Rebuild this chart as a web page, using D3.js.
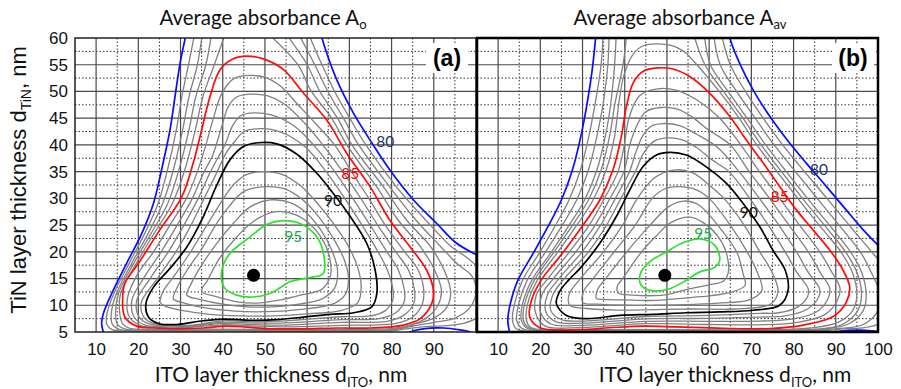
<!DOCTYPE html>
<html>
<head>
<meta charset="utf-8">
<script src="https://cdn.jsdelivr.net/npm/d3@7"></script>
<style>
  body { margin: 0; background: #fff; }
  svg { display: block; }
</style>
</head>
<body>
<div id="chart"></div>
<script>
// axis ticks and grid
const yTicks = [5, 10, 15, 20, 25, 30, 35, 40, 45, 50, 55, 60];
const xTicksA = [10, 20, 30, 40, 50, 60, 70, 80, 90];
const xTicksB = [10, 20, 30, 40, 50, 60, 70, 80, 90, 100];
const gridMajorX = [10, 20, 30, 40, 50, 60, 70, 80, 90];
const gridMinorX = [15, 25, 35, 45, 55, 65, 75, 85, 95];
const gridMajorY = [10, 15, 20, 25, 30, 35, 40, 45, 50, 55];
const gridMinorY = [7.5, 12.5, 17.5, 22.5, 27.5, 32.5, 37.5, 42.5, 47.5, 52.5, 57.5];

// ---- panel (a): A_o contours, points are [d_ITO, d_TiN] ----
const aBlueLeft = [[31.3,61],[31.1,60],[29.9,55.3],[28.7,49.1],[27.5,42.8],[25.5,35.3],[23.6,29.1],[20.8,23.4],[17.2,17.8],[13.7,12.2],[11.7,8.4],[11.3,6.6],[11.7,5],[11.9,4.5]];
const aBlueRight = [[63.2,61],[63.5,60],[67,52.2],[71,45.9],[74.9,40.9],[79.6,35.3],[85.2,29.7],[90.7,25.3],[95.4,21.6],[100.2,19.4],[102,18.6]];
const aBlueBottom = [[83.5,4.5],[84.4,5],[87.5,5.6],[92.3,5.75],[96.2,5.4],[98.6,5],[99.5,4.5]];
const aRed = [[45.7,56.6],[49.6,56.1],[54.4,54.1],[59.1,49.7],[64.6,44.7],[69.4,38.4],[74.9,32.2],[79.6,25.9],[84.4,20.9],[88.3,16.6],[89.9,12.8],[89.5,10.3],[86.8,7.5],[82.8,6.3],[75,5.75],[67,5.75],[59.1,5.6],[51.2,5.6],[45.7,5.9],[40.9,6.1],[35.4,5.75],[29.1,5.6],[23.6,5.75],[19.6,6.1],[16.8,7.8],[16.3,11.6],[16.8,14.1],[20.0,17.8],[25.1,24.1],[30.3,30.3],[33.0,36.6],[35.0,42.8],[37.0,49.1],[39.4,54.1],[42.5,56.1]];
const aBlack = [[48.4,40.4],[52.8,40.2],[57.5,38.3],[62.3,34.7],[66.2,30.9],[70.2,26.6],[74.1,21.6],[76.1,16.6],[76.5,12.2],[75.3,9.7],[71.0,8.6],[65.4,8.3],[59.1,7.8],[52.8,7.3],[46.5,7.2],[40.2,7.4],[35.4,7.1],[29.1,6.4],[24.7,6.6],[22.4,7.8],[21.8,10.3],[23.6,13.4],[27.5,16.9],[31.5,20.9],[35.4,26.6],[38.6,32.5],[41.7,37.2],[44.9,39.7]];
const aGreen = [[53.6,25.8],[58.3,25.3],[62.3,22.8],[64.0,19.1],[63.8,15.9],[60.7,15.2],[55.9,14.4],[52.0,12.5],[48.0,11.6],[43.3,11.9],[40.3,13.4],[39.8,16.6],[41.7,19.7],[46.5,22.8],[50.4,25.1]];
const aGray81 = [[33.4,61],[31.9,55],[30.3,49],[29.0,42.8],[26.9,35.3],[24.7,29.1],[21.5,23.4],[17.8,17.8],[14.2,12.2],[12.6,8.5],[12.5,6.5],[13.8,5.45],[18,5.15],[40,5.15],[60,5.12],[80,5.2],[84,5.65],[88,6.0],[93,6.2],[97,6.6],[100,7.6],[102.5,10],[102.5,15],[98.5,18.5],[94.1,21],[88.0,26],[81.3,32],[73.9,40],[70.1,45],[66.5,50],[63.5,55],[60.2,61]];
const aGray82 = [[35.2,61],[34.0,55],[32.0,49],[30.5,42.8],[28.3,35.3],[25.8,29.1],[22.3,23.4],[18.4,17.8],[14.8,12.2],[13.6,8.5],[13.8,6.5],[15.3,5.55],[19,5.27],[40,5.27],[60,5.25],[80,5.35],[85,6.1],[90,6.8],[95,7.6],[98.5,9.5],[100,12.5],[99,15.5],[95.5,17.8],[91.6,21],[85.7,26],[79.7,32],[72.2,40],[68.6,45],[64.9,50],[61.8,55],[57.8,61]];
const aGray83 = [[37.4,61],[36.0,55],[33.6,49],[32.0,42.8],[29.6,35.3],[27.0,29.1],[23.0,23.4],[18.9,17.8],[15.3,12.2],[14.6,8.5],[15.0,6.5],[16.5,5.65],[20,5.38],[40,5.4],[60,5.38],[80,5.5],[86,6.6],[90,7.6],[93,9.5],[94,12.5],[92.5,16.5],[89.2,21],[83.5,26],[78.2,32],[70.6,40],[67.2,45],[63.0,50],[60.0,55],[54.8,61]];
const aGray84 = [[40.7,61],[38.0,55],[35.3,49],[33.5,42.8],[31.0,35.3],[28.1,29.1],[23.7,23.4],[19.5,17.8],[15.8,12.2],[15.6,8.5],[16.3,6.5],[17.8,5.75],[21,5.5],[35,5.52],[50,5.5],[70,5.5],[80,5.65],[84,6.2],[88,7.5],[91,10],[91.8,12.8],[90.2,16.6],[86.8,21],[81.5,26],[76.6,32],[69.4,40],[65.8,45],[61.0,50],[57.8,55],[50.5,61]];
const aGray86 = [[46.3,53.0],[50.5,52.5],[54,50.8],[57.5,47.8],[62,44],[66.5,40],[70.5,35],[74.6,30],[78.5,25],[83.1,20],[86.3,16.6],[87.6,13],[87.3,10.3],[85,7.8],[81,6.6],[68,6.25],[55,5.95],[46,6.15],[40,6.35],[30,5.75],[25,5.85],[20.6,6.2],[17.9,7.8],[17.4,11.2],[19.6,15.5],[23.6,20],[27.5,25],[31.4,30],[34.0,35],[36.0,40],[37.8,45],[39.7,49.5],[42.6,52.4]];
const aGray87 = [[46.9,49.5],[50.5,49.2],[54.5,47.7],[59.5,44],[63.7,40],[68.4,35],[72.7,30],[76.7,25],[81.0,20],[84.0,16.6],[85.4,13],[85.3,10.4],[83,8.2],[79,7.0],[68,6.8],[55,6.3],[46,6.4],[40,6.6],[31,5.9],[26,6.0],[21.6,6.3],[19.0,7.8],[18.5,11.0],[21.2,15],[25.4,20],[29.2,25],[32.8,30],[35.6,35],[37.6,38],[39.6,43],[41.4,47.3],[43.4,49.0]];
const aGray88 = [[47.4,46.0],[51.5,45.6],[57,43.5],[61.5,40],[66.5,35],[70.8,30],[74.9,25],[78.9,20],[81.6,16.6],[83.0,13],[83,10.7],[81,8.6],[77,7.5],[68,7.3],[55,6.7],[46,6.7],[40,6.85],[32,6.1],[27,6.15],[22.6,6.5],[20.2,7.8],[19.6,10.8],[22.8,15],[27.1,20],[30.8,25],[34.2,30],[37.1,35],[38.8,37.5],[40.5,40],[42.3,43.5],[44.3,45.5]];
const aGray89 = [[48.0,43.0],[51.5,42.9],[55.5,41.8],[59.7,39.5],[64.5,35],[68.9,30],[73,25],[76.8,20],[79,16.6],[80.3,13],[80.3,11],[78.5,9.0],[75,8.0],[68,7.85],[55,7.1],[46,6.95],[40,7.1],[33,6.3],[28,6.3],[23.6,6.6],[21.3,7.8],[20.7,10.5],[24.5,15],[28.9,20],[32.5,25],[35.6,30],[38.7,35],[40.8,38.5],[43,40.8],[45,42.5]];
const aGray91 = [[49.3,35.0],[54,34.5],[58.5,32.3],[62.5,29],[66.5,25],[69.8,21],[72,17],[72.8,13.5],[72,10.5],[68,9.0],[60,8.4],[52,8.0],[44,8.0],[37,8.3],[30,9.1],[26.5,9.8],[25.2,10.5],[25.8,12.5],[28.5,15.5],[32,19.5],[35.5,24],[39,28.5],[42.5,32.5],[45.5,34.4]];
const aGray92 = [[50.2,32.2],[55,31.7],[59,29.7],[62.8,26.5],[66.2,22.5],[68.8,18.5],[69.8,15],[69,12],[66,10.2],[58,9.2],[50,8.8],[43,8.9],[36,9.5],[30.5,10.5],[28.3,11.2],[29,13],[31.5,16.5],[35,20.5],[38.3,25],[41.5,28.5],[45,31.3]];
const aGray93 = [[51.2,29.7],[56,29.2],[59.8,27.3],[63.3,24],[66,20],[67.2,16.5],[66.5,13.2],[63.5,11.2],[58,10.2],[52,9.7],[46,9.7],[40,10.2],[34.5,11.1],[31.5,11.9],[32.5,14],[35,17.5],[38.5,21.5],[42.5,25.3],[46.5,28.4]];
const aGray94 = [[52.5,27.5],[57,27.0],[60.5,25.3],[63.5,22.5],[65.3,19],[65.5,15.5],[63.5,13],[59,12],[53,10.9],[48,10.4],[43,10.7],[38.5,11.6],[35.0,12.6],[36.5,14.8],[39,18.5],[43,22.5],[47.5,25.8]];
const aOptimum = [47.3, 15.6];
const aLabels = [['80', 78.5, 40.7], ['85', 70.2, 34.6], ['90', 66.1, 29.6], ['95', 56.7, 22.9]];

// ---- panel (b): A_av contours ----
const bBlueLeft = [[33.2,61],[33.1,60],[32.3,54.1],[31.1,47.8],[29.6,41.6],[27.6,35.3],[25.0,29.7],[21.8,24.7],[18.3,19.7],[14.7,14.7],[12.9,10.3],[12.3,7.2],[12.7,5],[12.9,4.5]];
const bBlueRight = [[64.7,61],[64.9,60],[67.2,55.3],[70.4,50.3],[74.4,45.3],[79.1,40.3],[83.0,36.6],[87.8,32.2],[92.5,27.8],[96.5,24.1],[100,21.25],[102,19.8]];
const bBlueBottom = [[89,4.6],[90.5,5.1],[93,5.3],[96,5.35],[98.5,5.2],[101,5.0]];
const bRed = [[47.9,54.4],[51.4,54.2],[55.4,52.8],[60.1,49.7],[64.9,45.3],[68.8,40.9],[72.8,36.6],[76.7,32.2],[80.7,27.8],[84.6,24.1],[88.6,20.3],[91.7,16.6],[93.3,13.4],[92.5,10.6],[89.4,7.9],[82.3,6.3],[74.4,5.65],[63.3,5.7],[52.2,5.95],[44.3,6.1],[36.4,5.8],[29.3,5.45],[19.9,5.8],[17.5,7.8],[17.9,10.9],[20.2,14.7],[24.6,19.1],[29.3,24.1],[34.1,29.7],[37.2,35.3],[39.2,41.6],[40.4,47.2],[42.0,51.6],[44.3,53.75]];
const bBlack = [[50.7,38.6],[54.6,38.1],[59.3,35.9],[64.1,32.8],[68.0,29.1],[72.0,24.7],[75.1,20.3],[78.0,16.6],[78.7,12.8],[76.7,10.0],[70.4,9.07],[62.5,8.75],[54.6,8.6],[46.7,8.3],[38.8,8.1],[30.9,7.5],[26.2,8.1],[23.8,10.3],[24.6,12.6],[26.8,14.8],[29.3,16.8],[34.1,21.6],[38.0,26.6],[41.2,31.6],[44.3,35.9],[47.5,38.1]];
const bGreen = [[57.8,22.4],[61.3,21.25],[62.5,18.4],[61.3,17.1],[57.8,16.25],[54.6,14.7],[50.7,13.1],[46.7,12.7],[43.9,13.75],[43.7,15.9],[45.9,18.1],[49.9,20.0],[53.8,21.7]];
const bGray81 = [[34.9,61],[34.4,55],[33.0,47.8],[31.5,41.6],[29.5,35.3],[26.8,29.7],[23.4,24.7],[19.7,19.7],[15.8,14.7],[13.9,10.3],[13.4,7.2],[14.3,5.6],[17,5.12],[29,5.1],[50,5.12],[80,5.12],[87,5.25],[92,5.6],[97,5.85],[101,7],[102.5,14],[100.5,18],[98.5,20],[94.2,24],[87.9,30],[77.4,40],[72.8,45],[68.6,50],[65.0,55],[62.8,61]];
const bGray82 = [[36.3,61],[36.0,55],[34.9,47.8],[33.4,41.6],[31.4,35.3],[28.6,29.7],[25.0,24.7],[21.0,19.7],[16.9,14.7],[14.9,10.3],[14.4,7.2],[15.5,5.75],[18,5.2],[29,5.17],[50,5.2],[80,5.2],[90,5.6],[96.5,6.4],[100,9],[100.5,12],[98.5,16],[95.8,20],[91.8,24],[85.6,30],[75.4,40],[70.9,45],[66.5,50],[62.6,55],[61.0,61]];
const bGray83 = [[38.0,61],[37.6,55],[36.7,47.8],[35.4,41.6],[33.4,35.3],[30.5,29.7],[26.6,24.7],[22.4,19.7],[18.0,14.7],[15.8,10.3],[15.5,7.2],[16.6,5.85],[19,5.28],[29,5.24],[50,5.28],[75,5.28],[86,5.5],[93,6.5],[96.5,9],[97.2,12],[96.2,16],[93.5,20],[89.5,24],[83.3,30],[73.4,40],[69.0,45],[64.5,50],[60.3,55],[58.8,61]];
const bGray84 = [[40.5,61],[39.6,55],[37.7,47.8],[36.4,41.6],[34.4,35.3],[31.4,29.7],[27.4,24.7],[23.0,19.7],[18.6,14.7],[16.3,10.3],[16.0,7.2],[17.1,5.9],[19.5,5.35],[29,5.3],[50,5.35],[75,5.35],[88,5.7],[92,6.6],[95.2,9],[96.1,12],[95.1,16],[92.3,20],[88.3,24],[82.1,30],[72.3,40],[68,45],[63.4,50],[59,55],[56.2,61]];
const bGray845 = [[47.6,58.9],[51,58.6],[54,57.5],[56.5,55.5],[62.4,50],[67.1,45],[71.3,40],[81.0,30],[87.1,24],[91.2,20],[94.0,16],[95.0,12],[94,9],[90.5,6.8],[84,5.75],[75,5.42],[50,5.42],[35,5.42],[29,5.37],[20,5.45],[17.6,5.95],[16.7,7.2],[17.0,10.3],[19.3,14.7],[23.9,19.7],[28.4,24.7],[32.5,29.7],[35.6,35.3],[37.6,41.6],[38.6,47.8],[39.8,53],[42,57],[44.5,58.6]];
const bGray86 = [[47.8,50.5],[52.3,50.2],[57.5,48.2],[62.5,45],[67.5,40],[71.9,35],[76.7,30],[81.4,25],[86.2,20],[89.2,16],[91.0,13.2],[90.3,10.8],[87.5,8.3],[81,6.8],[72,6.35],[60,6.4],[45,6.55],[30,5.85],[21.2,6.1],[18.9,8.5],[19.1,12],[21.8,15],[26.9,20],[31.6,25],[35.2,30],[38.4,35],[39.9,40],[41.0,45],[43.5,49.2]];
const bGray87 = [[48.5,47],[52.5,46.7],[56,45.2],[59.5,43],[65,40],[69.5,35],[74.3,30],[78.9,25],[83.5,20],[86.4,16],[88.6,13.1],[88,11],[85.5,8.8],[79.5,7.4],[72,7.05],[60,7.0],[45,7.0],[30,6.25],[22.5,6.5],[20.1,8.6],[20.4,12],[23.1,15],[28.4,20],[33.0,25],[36.5,30],[39.8,35],[41.2,40],[42.8,43.5],[45,46.2]];
const bGray88 = [[49.2,44],[53,43.6],[57,42],[62,39.5],[67.1,35],[71.9,30],[76.5,25],[80.7,20],[83.6,16],[86.2,13.0],[85.8,11.3],[83.3,9.3],[78,8.0],[72,7.8],[60,7.55],[45,7.45],[30,6.65],[23.8,6.9],[21.3,8.8],[21.7,12],[24.4,15],[29.9,20],[34.3,25],[37.8,30],[41.1,35],[42.8,39],[44.5,42],[46.5,43.6]];
const bGray89 = [[49.9,41.3],[53.5,41],[57,39.5],[60.5,37.3],[64.7,35],[69.6,30],[74.0,25],[78.0,20],[80.9,16],[83.5,13.0],[83.3,11.6],[81,9.7],[76.5,8.6],[72,8.5],[60,8.1],[45,7.9],[30,7.05],[25.0,7.3],[22.5,9.0],[23.0,12],[25.7,15],[31.4,20],[35.7,25],[39.1,30],[42.5,35],[44.5,38.5],[47,40.7]];
const bGray91 = [[51.5,35.3],[56,34.8],[60,32.5],[63.5,30],[68.3,25],[72,20],[75,16],[76.3,12.5],[74.5,10.2],[66,9.3],[56,9.3],[47,9.2],[38,9.1],[31,9.4],[27,10],[26.8,12],[29.5,15],[35,20],[39.5,25],[43,30],[47,33.8]];
const bGray92 = [[52.5,32.2],[57,31.6],[60,30],[65,25],[69,20],[71.5,16],[72.5,12.8],[69.5,11],[62,10.4],[54,10.1],[47,10.0],[40,10.0],[33.5,10.2],[30.1,10.5],[30.2,12.5],[32.5,15],[37.5,20],[42.5,25],[46.5,30],[49.5,31.8]];
const bGray93 = [[54,29.5],[57.5,28.8],[62,25],[66.5,20],[68,16],[68.5,13.7],[64.5,12.3],[58,11.6],[52,11.2],[47,10.9],[40,11],[35,11.1],[33.3,11.3],[33.6,13],[35.5,15],[40.5,20],[46,25],[50.5,28.5]];
const bGray94 = [[55.5,26.5],[58.5,25.5],[62,23],[64,20],[64.5,16],[63.5,14.6],[60,13.8],[55,13],[50,12],[47,11.8],[42,11.9],[38.5,12.3],[38.2,13.5],[39.5,15],[44,20],[47.5,23],[51,25.5]];
const bOptimum = [49.5, 15.6];
const bLabels = [['80', 86.0, 35.5], ['85', 76.7, 30.3], ['90', 69.4, 27.3], ['95', 58.6, 23.5]];

const levelColor = { gray: '#808080', 80: '#0b0bff', 85: '#ff0b0b', 90: '#000000', 95: '#2ee02e' };
const labelColor = { 80: '#1f3864', 85: '#ff0000', 90: '#111111', 95: '#22a84a' };

const W = 901, H = 389;
const svg = d3.select('#chart').append('svg')
    .attr('width', W)
    .attr('height', H)
    .attr('font-family', '"Liberation Sans", Arial, sans-serif');
const defs = svg.append('defs');

const plotTop = 38, plotBottom = 332;

// text with sub-scripted parts: parts = [[str, isSub], ...]
function richText(t, parts, subSize, shift) {
    let inSub = false;
    parts.forEach(([s, isSub]) => {
        const ts = t.append('tspan').text(s);
        if (isSub && !inSub) ts.attr('font-size', subSize).attr('dy', shift);
        if (!isSub && inSub) ts.attr('dy', -shift);
        inSub = isSub;
    });
}

function drawPanel(p) {
    const x = d3.scaleLinear().domain([5, 100]).range([p.left, p.right]);
    const y = d3.scaleLinear().domain([5, 60]).range([plotBottom, plotTop]);

    const clipId = 'clip-' + p.key;
    defs.append('clipPath').attr('id', clipId).append('rect')
        .attr('x', x(5)).attr('y', y(60))
        .attr('width', x(100) - x(5)).attr('height', y(5) - y(60));

    const g = svg.append('g');
    g.append('rect')
        .attr('x', x(5)).attr('y', y(60))
        .attr('width', x(100) - x(5)).attr('height', y(5) - y(60))
        .attr('fill', '#fff');

    const plot = g.append('g').attr('clip-path', `url(#${clipId})`);

    // grid
    plot.selectAll('.vminor').data(gridMinorX).enter().append('line')
        .attr('x1', d => x(d)).attr('x2', d => x(d))
        .attr('y1', y(60)).attr('y2', y(5))
        .attr('stroke', '#333').attr('stroke-width', 1).attr('stroke-dasharray', '1.5,2');
    plot.selectAll('.hminor').data(gridMinorY).enter().append('line')
        .attr('x1', x(5)).attr('x2', x(100))
        .attr('y1', d => y(d)).attr('y2', d => y(d))
        .attr('stroke', '#333').attr('stroke-width', 1).attr('stroke-dasharray', '1.5,2');
    plot.selectAll('.vmajor').data(gridMajorX).enter().append('line')
        .attr('x1', d => x(d)).attr('x2', d => x(d))
        .attr('y1', y(60)).attr('y2', y(5))
        .attr('stroke', '#4a4a4a').attr('stroke-width', 1.2);
    plot.selectAll('.hmajor').data(gridMajorY).enter().append('line')
        .attr('x1', x(5)).attr('x2', x(100))
        .attr('y1', d => y(d)).attr('y2', d => y(d))
        .attr('stroke', '#4a4a4a').attr('stroke-width', 1.2);

    const openLine = d3.line().x(d => x(d[0])).y(d => y(d[1])).curve(d3.curveCatmullRom.alpha(0.5));
    const closedLine = d3.line().x(d => x(d[0])).y(d => y(d[1])).curve(d3.curveCatmullRomClosed.alpha(0.5));

    // grey contours first, coloured ones on top
    const layers = p.contours.slice().sort((a, b) => (a.color === 'gray') - (b.color === 'gray')).reverse();
    plot.selectAll('.contour').data(layers).enter().append('path')
        .attr('d', d => (d.closed ? closedLine : openLine)(d.pts))
        .attr('fill', 'none')
        .attr('stroke', d => levelColor[d.color])
        .attr('stroke-width', d => d.color === 'gray' ? 1.3 : 1.7);

    // optimum point
    plot.append('circle')
        .attr('cx', x(p.optimum[0])).attr('cy', y(p.optimum[1]))
        .attr('r', 6.5).attr('fill', '#000');

    // level labels
    plot.selectAll('.lvl').data(p.labels).enter().append('text')
        .attr('x', d => x(d[1])).attr('y', d => y(d[2]))
        .attr('dy', '0.36em')
        .attr('text-anchor', 'middle')
        .attr('font-family', 'Lato, "Open Sans", sans-serif')
        .attr('font-size', 15.5)
        .attr('fill', d => labelColor[d[0]])
        .text(d => d[0]);

    // panel letter
    g.append('rect')
        .attr('x', p.tagX - 21).attr('y', 43)
        .attr('width', 42).attr('height', 30)
        .attr('fill', '#fff');
    g.append('text')
        .attr('x', p.tagX).attr('y', 66)
        .attr('text-anchor', 'middle')
        .attr('font-size', 23).attr('font-weight', 'bold')
        .text(p.tag);

    // frame
    g.append('rect')
        .attr('x', x(5)).attr('y', y(60))
        .attr('width', x(100) - x(5)).attr('height', y(5) - y(60))
        .attr('fill', 'none')
        .attr('stroke', p.frameColor).attr('stroke-width', p.frameWidth);

    // x axis labels
    const xAxis = g.append('g')
        .attr('transform', `translate(0,${plotBottom})`)
        .call(d3.axisBottom(x).tickValues(p.xTicks).tickSize(0).tickPadding(11));
    xAxis.select('.domain').remove();
    xAxis.selectAll('text').attr('font-size', 17).attr('fill', '#111')
        .attr('font-family', '"Liberation Sans", Arial, sans-serif');

    if (p.yAxis) {
        const yAxis = g.append('g')
            .attr('transform', `translate(${x(5)},0)`)
            .call(d3.axisLeft(y).tickValues(yTicks).tickSize(0).tickPadding(7));
        yAxis.select('.domain').remove();
        yAxis.selectAll('text').attr('font-size', 17).attr('fill', '#111')
            .attr('font-family', '"Liberation Sans", Arial, sans-serif');
    }

    // title
    const title = g.append('text')
        .attr('x', p.titleX).attr('y', 25)
        .attr('text-anchor', 'middle')
        .attr('font-family', 'Lato, "Open Sans", sans-serif')
        .attr('font-size', 20.5).attr('fill', '#111');
    richText(title, [['Average absorbance A', false], [p.titleSub, true]], 13, 4);

    // x title
    const xt = g.append('text')
        .attr('x', p.xTitleX).attr('y', 382)
        .attr('text-anchor', 'middle')
        .attr('font-family', 'Lato, "Open Sans", sans-serif')
        .attr('font-size', 21).attr('fill', '#111');
    richText(xt, [['ITO layer thickness d', false], ['ITO', true], [', nm', false]], 13, 5);
}

function contourSet(gray81, gray82, gray83, gray84, extra, gray86, gray87, gray88, gray89, gray91, gray92, gray93, gray94, blueL, blueR, blueB, red, black, green) {
    const list = [
        { pts: gray81, closed: false, color: 'gray' },
        { pts: gray82, closed: false, color: 'gray' },
        { pts: gray83, closed: false, color: 'gray' },
        { pts: gray84, closed: false, color: 'gray' },
        { pts: gray86, closed: true, color: 'gray' },
        { pts: gray87, closed: true, color: 'gray' },
        { pts: gray88, closed: true, color: 'gray' },
        { pts: gray89, closed: true, color: 'gray' },
        { pts: gray91, closed: true, color: 'gray' },
        { pts: gray92, closed: true, color: 'gray' },
        { pts: gray93, closed: true, color: 'gray' },
        { pts: gray94, closed: true, color: 'gray' },
        { pts: blueL, closed: false, color: 80 },
        { pts: blueR, closed: false, color: 80 },
        { pts: blueB, closed: false, color: 80 },
        { pts: red, closed: true, color: 85 },
        { pts: black, closed: true, color: 90 },
        { pts: green, closed: true, color: 95 }
    ];
    if (extra) list.push({ pts: extra, closed: true, color: 'gray' });
    return list;
}

drawPanel({
    key: 'a', left: 75, right: 476,
    contours: contourSet(aGray81, aGray82, aGray83, aGray84, null, aGray86, aGray87, aGray88, aGray89,
        aGray91, aGray92, aGray93, aGray94, aBlueLeft, aBlueRight, aBlueBottom, aRed, aBlack, aGreen),
    optimum: aOptimum, labels: aLabels,
    tag: '(a)', tagX: 447, frameColor: '#222', frameWidth: 1.5,
    xTicks: xTicksA, yAxis: true,
    titleX: 263, titleSub: 'o', xTitleX: 281
});

drawPanel({
    key: 'b', left: 477, right: 878,
    contours: contourSet(bGray81, bGray82, bGray83, bGray84, bGray845, bGray86, bGray87, bGray88, bGray89,
        bGray91, bGray92, bGray93, bGray94, bBlueLeft, bBlueRight, bBlueBottom, bRed, bBlack, bGreen),
    optimum: bOptimum, labels: bLabels,
    tag: '(b)', tagX: 853, frameColor: '#000', frameWidth: 2.5,
    xTicks: xTicksB, yAxis: false,
    titleX: 680, titleSub: 'av', xTitleX: 725
});

// y axis title
const yTitle = svg.append('text')
    .attr('transform', 'translate(26,180) rotate(-90)')
    .attr('text-anchor', 'middle')
    .attr('font-size', 22).attr('fill', '#111');
richText(yTitle, [['TiN layer thickness d', false], ['TiN', true], [', nm', false]], 14, 5);
</script>
</body>
</html>
